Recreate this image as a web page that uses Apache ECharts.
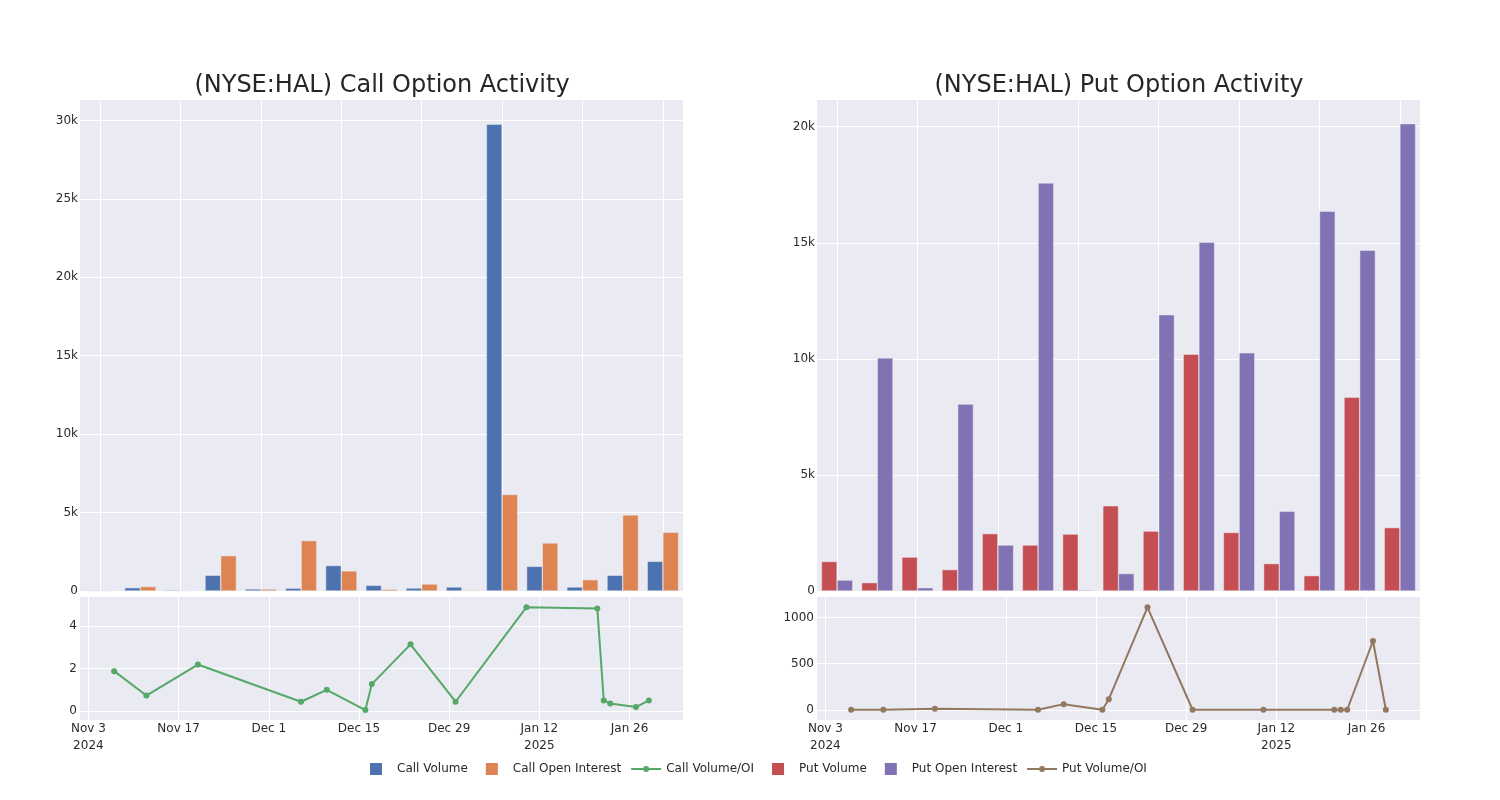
<!DOCTYPE html>
<html>
<head>
<meta charset="utf-8">
<script src="https://cdn.jsdelivr.net/npm/echarts@6/dist/echarts.min.js"></script>
<style>
html,body{margin:0;padding:0;background:#fff;}
#c{width:1500px;height:800px;}
</style>
</head>
<body>
<div id="c"></div>
<script>
// ---- data ----
const dates = ['2024-11-07','2024-11-12','2024-11-20','2024-12-06','2024-12-10','2024-12-16','2024-12-17','2024-12-23','2024-12-30','2025-01-10','2025-01-21','2025-01-22','2025-01-23','2025-01-27','2025-01-29'];
const callVolume = [40, 210, 60, 1000, 130, 180, 1620, 360, 190, 255, 29750, 1570, 255, 1000, 1890];
const callOpenInterest = [21, 280, 27, 2250, 125, 3210, 1280, 115, 445, 52, 6150, 3060, 720, 4850, 3740];
const callVolOI = [1.88, 0.73, 2.19, 0.44, 1.0, 0.05, 1.27, 3.14, 0.44, 4.89, 4.83, 0.5, 0.36, 0.19, 0.5];
const putVolume = [1270, 360, 1460, 920, 2470, 1980, 2450, 3670, 2580, 10200, 2520, 1180, 660, 8350, 2730];
const putOpenInterest = [470, 10040, 140, 8050, 1980, 17580, 40, 750, 11900, 15020, 10260, 3430, 16360, 14680, 20130];
const putVolOI = [0, 0, 10, 0, 61, 0, 115, 1111, 0, 0, 0, 0, 0, 746, 0];
const dateTicks = ['2024-11-03','2024-11-17','2024-12-01','2024-12-15','2024-12-29','2025-01-12','2025-01-26'];
const dateTickLabels = ['Nov 3\n2024','Nov 17','Dec 1','Dec 15','Dec 29','Jan 12\n2025','Jan 26'];
const callBarTicks = [0, 5000, 10000, 15000, 20000, 25000, 30000];
const putBarTicks = [0, 5000, 10000, 15000, 20000];
const callRatioTicks = [0, 2, 4];
const putRatioTicks = [0, 500, 1000];
const callTitle = '(NYSE:HAL) Call Option Activity';
const putTitle = '(NYSE:HAL) Put Option Activity';

// ---- helpers ----
const DAY = 86400000;
function ts(s){ const p = s.split('-').map(Number); return Date.UTC(p[0], p[1]-1, p[2]); }
const tickTs = dateTicks.map(ts);
const xMin = ts('2024-11-03') - 1.3*DAY;
const xMax = ts('2024-11-03') + 92.3*DAY;
const FONT = 'DejaVu Sans';
const TXT = '#2a2a2a';
const BG = '#eaeaf2';
const kfmt = v => v === 0 ? '0' : (v/1000) + 'k';

function barX(gi){
  return {type:'category', gridIndex:gi, data:dates, boundaryGap:true,
    axisLine:{show:false}, axisTick:{show:false}, axisLabel:{show:false},
    splitLine:{show:true, interval:1, alignWithLabel:true, lineStyle:{color:'#fff', width:1}}};
}
function barY(gi, max, ticks){
  return {type:'value', gridIndex:gi, min:0, max:max,
    axisLine:{show:false}, axisTick:{show:false, customValues:ticks},
    axisLabel:{customValues:ticks, formatter:kfmt, color:TXT, fontSize:12, fontFamily:FONT, margin:2},
    splitLine:{show:true, lineStyle:{color:'#fff', width:1}}};
}
function timeX(gi){
  return {type:'value', gridIndex:gi, min:xMin, max:xMax,
    axisLine:{show:false},
    axisTick:{show:false, customValues:tickTs},
    axisLabel:{customValues:tickTs, color:TXT, fontSize:12, fontFamily:FONT, margin:0, lineHeight:17,
      formatter: v => { const i = tickTs.indexOf(v); return i >= 0 ? dateTickLabels[i] : ''; }},
    splitLine:{show:true, lineStyle:{color:'#fff', width:1}}};
}
function lineY(gi, min, max, ticks){
  return {type:'value', gridIndex:gi, min:min, max:max,
    axisLine:{show:false},
    axisTick:{show:false, customValues:ticks},
    axisLabel:{customValues:ticks, color:TXT, fontSize:12, fontFamily:FONT, margin:3, formatter: v => String(v)},
    splitLine:{show:true, lineStyle:{color:'#fff', width:1}}};
}
function bar(name, data, color, xi){
  return {name:name, type:'bar', xAxisIndex:xi, yAxisIndex:xi, data:data,
    barGap:'0%', barCategoryGap:'22%',
    itemStyle:{color:color, borderColor:BG, borderWidth:0.5}};
}
function line(name, vals, color, xi){
  return {name:name, type:'line', xAxisIndex:xi, yAxisIndex:xi,
    data: dates.map((d,i)=>[ts(d), vals[i]]),
    symbol:'circle', symbolSize:6, showSymbol:true,
    lineStyle:{color:color, width:2}, itemStyle:{color:color}};
}
// legend icons drawn in a 37x12 box (tiny corner marks fix the box size)
const corners = 'M0,0h0.01v0.01h-0.01z M36.99,11.99h0.01v0.01h-0.01z ';
const sq = 'path://' + corners + 'M15,0h12v12h-12z';
const lineIcon = 'path://' + corners + 'M7,5.1h30v1.8h-30z M25,6A3,3 0 1 1 19,6A3,3 0 1 1 25,6z';

const option = {
  backgroundColor:'#fff',
  animation:false,
  textStyle:{fontFamily:FONT},
  title:[
    {text:callTitle, left:377, top:69, textAlign:'center', textStyle:{fontSize:24, fontWeight:'normal', color:'#262626', fontFamily:FONT}},
    {text:putTitle, left:1114, top:69, textAlign:'center', textStyle:{fontSize:24, fontWeight:'normal', color:'#262626', fontFamily:FONT}}
  ],
  grid:[
    {left:80, width:603, top:100, height:491, backgroundColor:BG, show:true, borderWidth:0},
    {left:80, width:603, top:597, height:123, backgroundColor:BG, show:true, borderWidth:0},
    {left:817, width:603, top:100, height:491, backgroundColor:BG, show:true, borderWidth:0},
    {left:817, width:603, top:597, height:123, backgroundColor:BG, show:true, borderWidth:0}
  ],
  xAxis:[barX(0), timeX(1), barX(2), timeX(3)],
  yAxis:[
    barY(0, 31300, callBarTicks),
    lineY(1, -0.42, 5.37, callRatioTicks),
    barY(2, 21150, putBarTicks),
    lineY(3, -111, 1223, putRatioTicks)
  ],
  legend:{
    top:763, left:355, padding:0, itemWidth:37, itemHeight:12, itemGap:3,
    itemStyle:{borderWidth:0},
    textStyle:{fontSize:12, color:TXT, fontFamily:FONT},
    data:[
      {name:'Call Volume', icon:sq},
      {name:'Call Open Interest', icon:sq},
      {name:'Call Volume/OI', icon:lineIcon},
      {name:'Put Volume', icon:sq},
      {name:'Put Open Interest', icon:sq},
      {name:'Put Volume/OI', icon:lineIcon}
    ]
  },
  series:[
    bar('Call Volume', callVolume, '#4c72b0', 0),
    bar('Call Open Interest', callOpenInterest, '#dd8452', 0),
    line('Call Volume/OI', callVolOI, '#55a868', 1),
    bar('Put Volume', putVolume, '#c44e52', 2),
    bar('Put Open Interest', putOpenInterest, '#8172b3', 2),
    line('Put Volume/OI', putVolOI, '#937860', 3)
  ]
};
const chart = echarts.init(document.getElementById('c'), null, {renderer:'canvas'});
chart.setOption(option);
</script>
</body>
</html>
